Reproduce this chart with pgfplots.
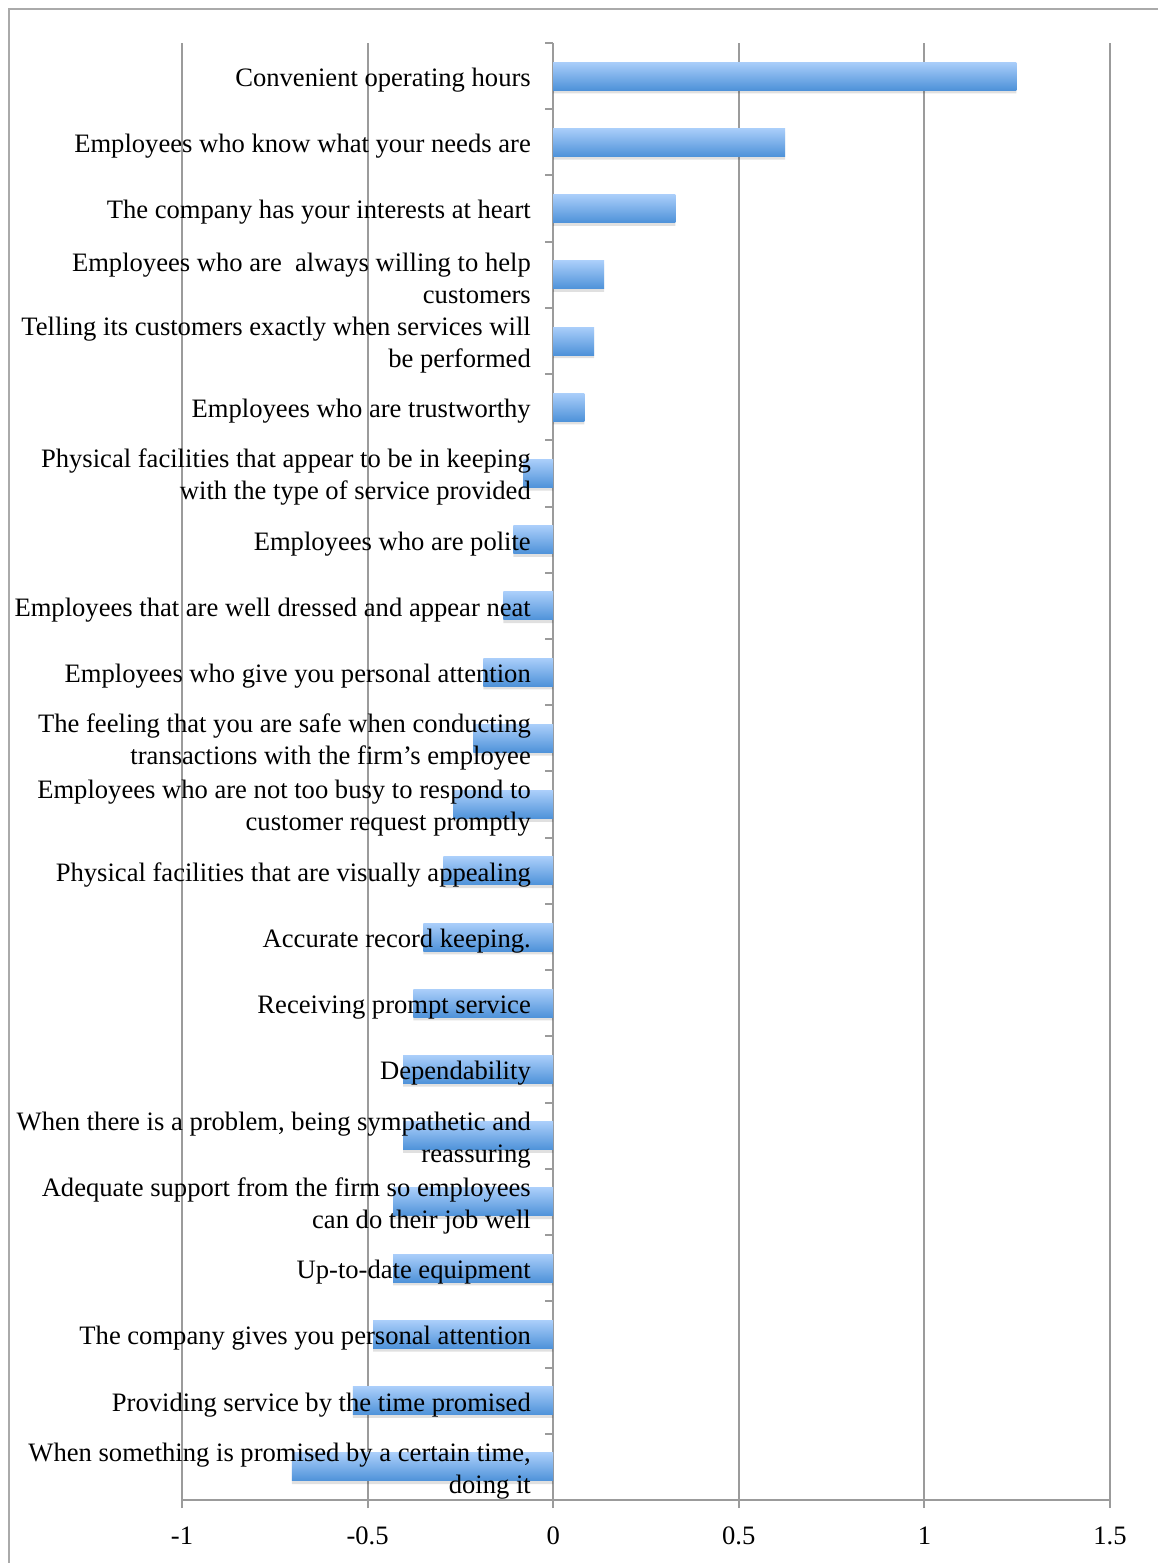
\documentclass[border=0pt]{standalone}
\usepackage{pgfplots}
\pgfplotsset{compat=1.18}
\usepackage{fontspec}
\setmainfont{Liberation Serif}
\definecolor{bartop}{RGB}{170,206,250}
\definecolor{barbot}{RGB}{78,146,217}
\definecolor{axgray}{RGB}{155,155,155}
\pgfplotsset{
  mybar/.style={xbar, bar width=14pt, draw=none, top color=bartop, bottom color=barbot},
  common/.style={
    at={(0,0)}, anchor=south west,
    scale only axis,
    width=464pt, height=728.5pt,
    xmin=-1, xmax=1.5, ymin=-0.5, ymax=21.5,
    axis y line=middle,
    major tick length=4pt,
    minor tick length=4pt,
    ytick={0,...,21},
    ytick align=outside,
  },
}
\pgfplotstableread{
x y
1.248 21
0.625 20
0.329 19
0.137 18
0.110 17
0.084 16
-0.080 15
-0.107 14
-0.134 13
-0.188 12
-0.215 11
-0.269 10
-0.296 9
-0.350 8
-0.377 7
-0.404 6
-0.404 5
-0.431 4
-0.431 3
-0.485 2
-0.540 1
-0.704 0
}\datatable
\begin{document}
\begin{tikzpicture}
\useasboundingbox (-91pt,-31.5pt) rectangle (488pt,750pt);
\draw[color={rgb,255:red,170;green,170;blue,170}, line width=0.8pt] (-86.5pt,-31.5pt) -- (-86.5pt,745.5pt) -- (488pt,745.5pt);
\begin{axis}[
  common,
  axis x line=bottom,
  axis line style={-, draw=axgray, line width=1pt},
  hide obscured x ticks=false,
  xtick={-1,-0.5,0,0.5,1,1.5},
  xticklabels={-1,-0.5,0,0.5,1,1.5},
  xtick align=outside,
  xmajorgrids,
  grid style={draw=axgray, line width=1pt},
  major y tick style={draw=none},
  minor ytick={-0.5,0.5,...,21.5},
  tick style={draw=axgray, line width=1pt},
  xticklabel style={font=\fontsize{13.3pt}{16pt}\selectfont, yshift=-6pt},
  yticklabel={\mbox{}},
]
\addplot[xbar, bar width=14pt, bar shift=-1.6pt, draw=none, fill=black, fill opacity=0.12] table[x=x, y=y] {\datatable};
\addplot[mybar] coordinates {(1.248,21)};
\addplot[mybar] coordinates {(0.625,20)};
\addplot[mybar] coordinates {(0.329,19)};
\addplot[mybar] coordinates {(0.137,18)};
\addplot[mybar] coordinates {(0.110,17)};
\addplot[mybar] coordinates {(0.084,16)};
\addplot[mybar] coordinates {(-0.080,15)};
\addplot[mybar] coordinates {(-0.107,14)};
\addplot[mybar] coordinates {(-0.134,13)};
\addplot[mybar] coordinates {(-0.188,12)};
\addplot[mybar] coordinates {(-0.215,11)};
\addplot[mybar] coordinates {(-0.269,10)};
\addplot[mybar] coordinates {(-0.296,9)};
\addplot[mybar] coordinates {(-0.350,8)};
\addplot[mybar] coordinates {(-0.377,7)};
\addplot[mybar] coordinates {(-0.404,6)};
\addplot[mybar] coordinates {(-0.404,5)};
\addplot[mybar] coordinates {(-0.431,4)};
\addplot[mybar] coordinates {(-0.431,3)};
\addplot[mybar] coordinates {(-0.485,2)};
\addplot[mybar] coordinates {(-0.540,1)};
\addplot[mybar] coordinates {(-0.704,0)};
\end{axis}
\begin{axis}[
  common,
  axis x line=none,
  y axis line style={draw=none},
  ytick style={draw=none},
  yticklabel style={font=\fontsize{13.3pt}{16pt}\selectfont, align=right, inner xsep=0pt, xshift=-7pt, yshift=-2pt},
  yticklabels={
    {When something is promised by a certain time,\\ doing it},
    {Providing service by the time promised},
    {The company gives you personal attention},
    {Up-to-date equipment},
    {Adequate support from the firm so employees\\ can do their job well},
    {When there is a problem, being sympathetic and\\ reassuring},
    {Dependability},
    {Receiving prompt service},
    {Accurate record keeping.},
    {Physical facilities that are visually appealing},
    {Employees who are not too busy to respond to\\ customer request promptly},
    {The feeling that you are safe when conducting\\ transactions with the firm's employee},
    {Employees who give you personal attention},
    {Employees that are well dressed and appear neat},
    {Employees who are polite},
    {Physical facilities that appear to be in keeping\\ with the type of service provided},
    {Employees who are trustworthy},
    {Telling its customers exactly when services will\\ be performed},
    {Employees who are\ \ always willing to help\\ customers},
    {The company has your interests at heart},
    {Employees who know what your needs are},
    {Convenient operating hours}
  },
]
\end{axis}
\end{tikzpicture}
\end{document}
